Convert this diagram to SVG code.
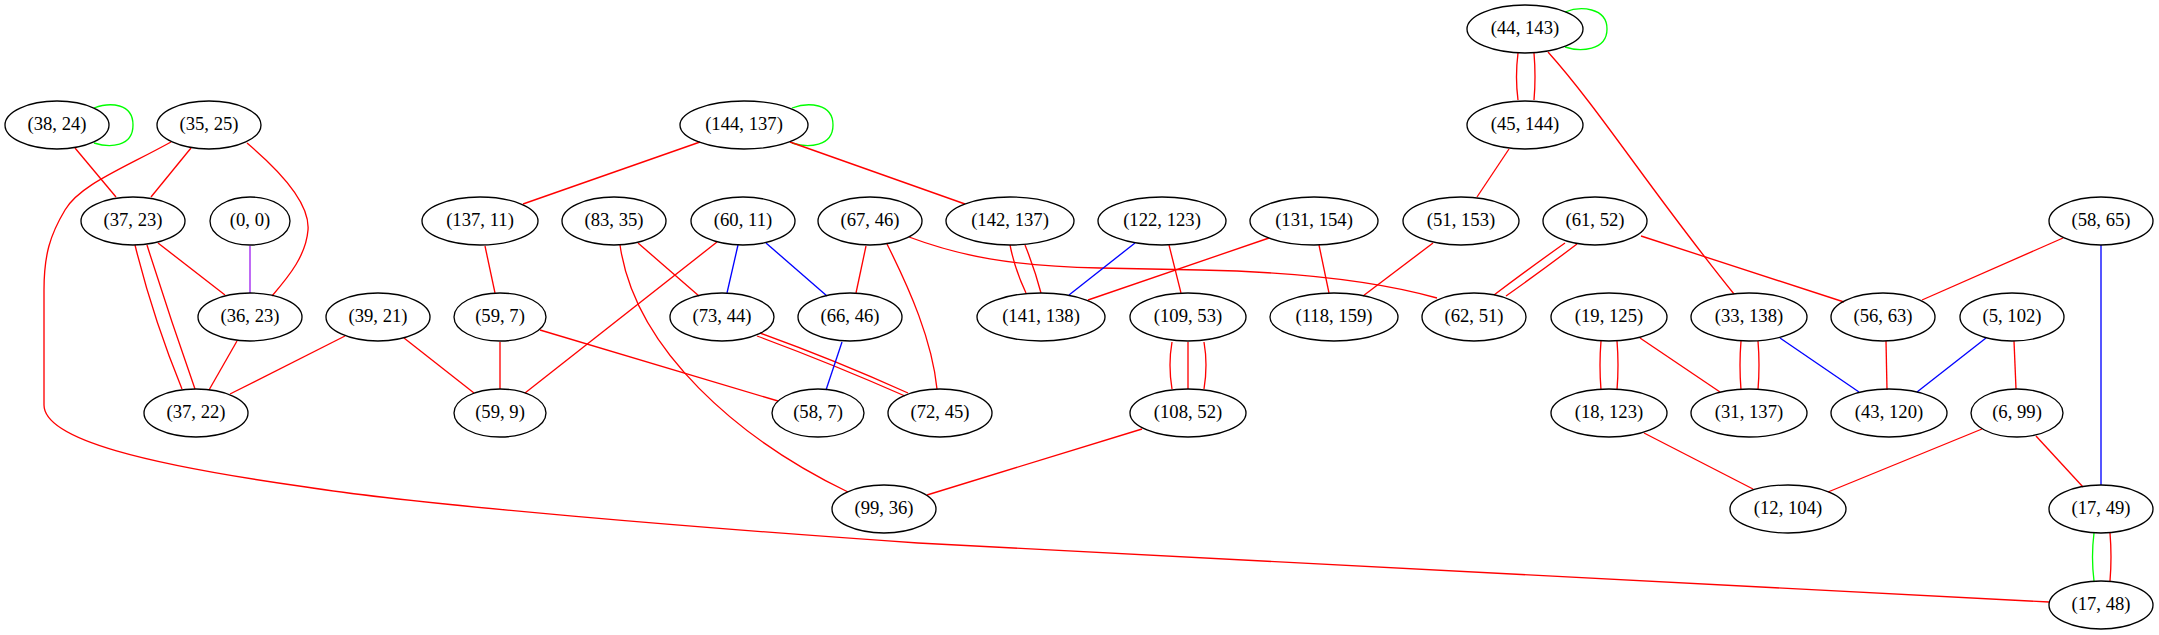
<svg xmlns="http://www.w3.org/2000/svg" width="2159" height="635" viewBox="0 0 2159 635">
<style>
.n ellipse{fill:none;stroke:#000;stroke-width:1.33}
.n text{font-family:'Times New Roman','Liberation Serif','DejaVu Serif',serif;font-size:18.67px;text-anchor:middle;fill:#000}
.e path{fill:none;stroke-width:1.33}
.r{stroke:#ff0000}.b{stroke:#0000ff}.g{stroke:#00ff00}.p{stroke:#a020f0}
</style>
<rect width="2159" height="635" fill="#fff"/>
<g id="edges" class="e">
<path class="g" d="M94,108 C110,102 133,103 133,125 C133,147 110,148 94,143"/>
<path class="r" d="M75,148 L116,197"/>
<path class="r" d="M191,148 L151,197"/>
<path class="r" d="M247,143 C285,175 310,205 308,230 C306,255 290,275 272,296"/>
<path class="r" d="M171,142 C120,170 80,185 65,210 C50,235 44,255 44,290 L44,405 C44,440 150,465 306,487 C420,505 700,528 918,543 L2049,602"/>
<path class="r" d="M135,245 Q153,318 182,389"/>
<path class="r" d="M147,245 Q170,318 195,389"/>
<path class="r" d="M158,243 L225,295"/>
<path class="p" d="M250,246 L250,293"/>
<path class="r" d="M237,341 L209,390"/>
<path class="r" d="M345,336 L230,394"/>
<path class="r" d="M404,338 L474,393"/>
<path class="g" d="M792,108 C808,102 833,103 833,125 C833,147 808,148 792,143"/>
<path class="r" d="M700,142 L523,204"/>
<path class="r" d="M790,142 L965,204"/>
<path class="r" d="M485,246 L495,293"/>
<path class="r" d="M500,342 L500,389"/>
<path class="r" d="M540,330 L778,401"/>
<path class="r" d="M638,243 L699,296"/>
<path class="r" d="M620,245 C635,350 740,440 848,492"/>
<path class="r" d="M717,242 L525,393"/>
<path class="b" d="M738,245 L727,293"/>
<path class="b" d="M766,243 L827,296"/>
<path class="r" d="M866,246 L856,293"/>
<path class="r" d="M887,244 C910,290 932,340 937,389"/>
<path class="r" d="M909,237 C960,256 1010,266 1100,268 L1200,270 C1300,272 1380,282 1437,298"/>
<path class="r" d="M757,336 Q830,363 905,396"/>
<path class="r" d="M760,333 Q835,360 908,393"/>
<path class="b" d="M842,342 L826,390"/>
<path class="r" d="M1010,245 Q1015,270 1026,293"/>
<path class="r" d="M1025,245 Q1035,270 1041,293"/>
<path class="b" d="M1135,243 L1069,295"/>
<path class="r" d="M1169,245 L1181,293"/>
<path class="r" d="M1269,238 L1088,300"/>
<path class="r" d="M1319,245 L1329,293"/>
<path class="r" d="M1172,342 Q1168,365 1172,389"/>
<path class="r" d="M1188,342 L1188,389"/>
<path class="r" d="M1204,342 Q1208,365 1204,389"/>
<path class="r" d="M1142,429 L927,495"/>
<path class="g" d="M1565,12 C1580,6 1607,7 1607,29 C1607,51 1580,52 1565,47"/>
<path class="r" d="M1518,53 Q1515,77 1518,100"/>
<path class="r" d="M1534,53 Q1536,77 1534,100"/>
<path class="r" d="M1548,52 C1600,110 1650,190 1734,294"/>
<path class="r" d="M1509,149 L1477,197"/>
<path class="r" d="M1433,243 L1363,296"/>
<path class="r" d="M1565,243 Q1527,270 1494,295"/>
<path class="r" d="M1577,244 Q1540,272 1506,296"/>
<path class="r" d="M1641,236 L1844,302"/>
<path class="r" d="M2063,238 L1922,300"/>
<path class="b" d="M2101,245 L2101,485"/>
<path class="r" d="M1601,341 Q1599,365 1601,390"/>
<path class="r" d="M1617,341 Q1619,365 1617,390"/>
<path class="r" d="M1640,338 L1720,392"/>
<path class="r" d="M1741,341 Q1739,365 1741,390"/>
<path class="r" d="M1758,341 Q1760,365 1758,390"/>
<path class="b" d="M1780,338 L1859,392"/>
<path class="r" d="M1886,341 L1887,390"/>
<path class="b" d="M1986,338 L1917,392"/>
<path class="r" d="M2014,341 L2016,389"/>
<path class="r" d="M1644,433 L1753,489"/>
<path class="r" d="M1982,429 L1828,492"/>
<path class="r" d="M2036,436 L2083,487"/>
<path class="g" d="M2094,533 Q2091,557 2094,581"/>
<path class="r" d="M2110,533 Q2112,557 2110,581"/>
</g>
<g id="n38_24" class="n"><ellipse cx="57" cy="125" rx="52" ry="24"/><text x="57" y="130">(38, 24)</text></g>
<g id="n35_25" class="n"><ellipse cx="209" cy="125" rx="52" ry="24"/><text x="209" y="130">(35, 25)</text></g>
<g id="n144_137" class="n"><ellipse cx="744" cy="125" rx="64" ry="24"/><text x="744" y="130">(144, 137)</text></g>
<g id="n44_143" class="n"><ellipse cx="1525" cy="29" rx="58" ry="24"/><text x="1525" y="34">(44, 143)</text></g>
<g id="n45_144" class="n"><ellipse cx="1525" cy="125" rx="58" ry="24"/><text x="1525" y="130">(45, 144)</text></g>
<g id="n37_23" class="n"><ellipse cx="133" cy="221" rx="52" ry="24"/><text x="133" y="226">(37, 23)</text></g>
<g id="n0_0" class="n"><ellipse cx="250" cy="221" rx="40" ry="24"/><text x="250" y="226">(0, 0)</text></g>
<g id="n137_11" class="n"><ellipse cx="480" cy="221" rx="58" ry="24"/><text x="480" y="226">(137, 11)</text></g>
<g id="n83_35" class="n"><ellipse cx="614" cy="221" rx="52" ry="24"/><text x="614" y="226">(83, 35)</text></g>
<g id="n60_11" class="n"><ellipse cx="743" cy="221" rx="52" ry="24"/><text x="743" y="226">(60, 11)</text></g>
<g id="n67_46" class="n"><ellipse cx="870" cy="221" rx="52" ry="24"/><text x="870" y="226">(67, 46)</text></g>
<g id="n142_137" class="n"><ellipse cx="1010" cy="221" rx="64" ry="24"/><text x="1010" y="226">(142, 137)</text></g>
<g id="n122_123" class="n"><ellipse cx="1162" cy="221" rx="64" ry="24"/><text x="1162" y="226">(122, 123)</text></g>
<g id="n131_154" class="n"><ellipse cx="1314" cy="221" rx="64" ry="24"/><text x="1314" y="226">(131, 154)</text></g>
<g id="n51_153" class="n"><ellipse cx="1461" cy="221" rx="58" ry="24"/><text x="1461" y="226">(51, 153)</text></g>
<g id="n61_52" class="n"><ellipse cx="1595" cy="221" rx="52" ry="24"/><text x="1595" y="226">(61, 52)</text></g>
<g id="n58_65" class="n"><ellipse cx="2101" cy="221" rx="52" ry="24"/><text x="2101" y="226">(58, 65)</text></g>
<g id="n36_23" class="n"><ellipse cx="250" cy="317" rx="52" ry="24"/><text x="250" y="322">(36, 23)</text></g>
<g id="n39_21" class="n"><ellipse cx="378" cy="317" rx="52" ry="24"/><text x="378" y="322">(39, 21)</text></g>
<g id="n59_7" class="n"><ellipse cx="500" cy="317" rx="46" ry="24"/><text x="500" y="322">(59, 7)</text></g>
<g id="n73_44" class="n"><ellipse cx="722" cy="317" rx="52" ry="24"/><text x="722" y="322">(73, 44)</text></g>
<g id="n66_46" class="n"><ellipse cx="850" cy="317" rx="52" ry="24"/><text x="850" y="322">(66, 46)</text></g>
<g id="n141_138" class="n"><ellipse cx="1041" cy="317" rx="64" ry="24"/><text x="1041" y="322">(141, 138)</text></g>
<g id="n109_53" class="n"><ellipse cx="1188" cy="317" rx="58" ry="24"/><text x="1188" y="322">(109, 53)</text></g>
<g id="n118_159" class="n"><ellipse cx="1334" cy="317" rx="64" ry="24"/><text x="1334" y="322">(118, 159)</text></g>
<g id="n62_51" class="n"><ellipse cx="1474" cy="317" rx="52" ry="24"/><text x="1474" y="322">(62, 51)</text></g>
<g id="n19_125" class="n"><ellipse cx="1609" cy="317" rx="58" ry="24"/><text x="1609" y="322">(19, 125)</text></g>
<g id="n33_138" class="n"><ellipse cx="1749" cy="317" rx="58" ry="24"/><text x="1749" y="322">(33, 138)</text></g>
<g id="n56_63" class="n"><ellipse cx="1883" cy="317" rx="52" ry="24"/><text x="1883" y="322">(56, 63)</text></g>
<g id="n5_102" class="n"><ellipse cx="2012" cy="317" rx="52" ry="24"/><text x="2012" y="322">(5, 102)</text></g>
<g id="n37_22" class="n"><ellipse cx="196" cy="413" rx="52" ry="24"/><text x="196" y="418">(37, 22)</text></g>
<g id="n59_9" class="n"><ellipse cx="500" cy="413" rx="46" ry="24"/><text x="500" y="418">(59, 9)</text></g>
<g id="n58_7" class="n"><ellipse cx="818" cy="413" rx="46" ry="24"/><text x="818" y="418">(58, 7)</text></g>
<g id="n72_45" class="n"><ellipse cx="940" cy="413" rx="52" ry="24"/><text x="940" y="418">(72, 45)</text></g>
<g id="n108_52" class="n"><ellipse cx="1188" cy="413" rx="58" ry="24"/><text x="1188" y="418">(108, 52)</text></g>
<g id="n18_123" class="n"><ellipse cx="1609" cy="413" rx="58" ry="24"/><text x="1609" y="418">(18, 123)</text></g>
<g id="n31_137" class="n"><ellipse cx="1749" cy="413" rx="58" ry="24"/><text x="1749" y="418">(31, 137)</text></g>
<g id="n43_120" class="n"><ellipse cx="1889" cy="413" rx="58" ry="24"/><text x="1889" y="418">(43, 120)</text></g>
<g id="n6_99" class="n"><ellipse cx="2017" cy="413" rx="46" ry="24"/><text x="2017" y="418">(6, 99)</text></g>
<g id="n99_36" class="n"><ellipse cx="884" cy="509" rx="52" ry="24"/><text x="884" y="514">(99, 36)</text></g>
<g id="n12_104" class="n"><ellipse cx="1788" cy="509" rx="58" ry="24"/><text x="1788" y="514">(12, 104)</text></g>
<g id="n17_49" class="n"><ellipse cx="2101" cy="509" rx="52" ry="24"/><text x="2101" y="514">(17, 49)</text></g>
<g id="n17_48" class="n"><ellipse cx="2101" cy="605" rx="52" ry="24"/><text x="2101" y="610">(17, 48)</text></g>
</svg>
